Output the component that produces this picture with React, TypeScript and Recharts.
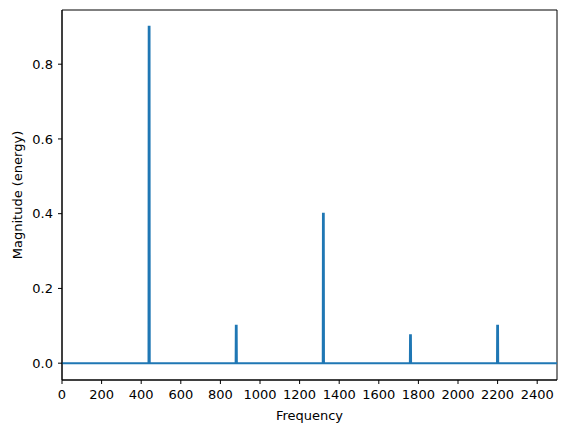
import { LineChart, Line, XAxis, YAxis, ReferenceArea } from 'recharts';

// spectrum points: flat at zero with narrow spikes at the harmonics of 440 Hz
const frequency = [0, 437, 438, 442, 443, 877, 878, 882, 883, 1317, 1318, 1322, 1323, 1757, 1758, 1762, 1763, 2197, 2198, 2202, 2203, 2500];
const magnitude = [0, 0, 0.9, 0.9, 0, 0, 0.1, 0.1, 0, 0, 0.4, 0.4, 0, 0, 0.075, 0.075, 0, 0, 0.1, 0.1, 0, 0];

const xTicks = [0, 200, 400, 600, 800, 1000, 1200, 1400, 1600, 1800, 2000, 2200, 2400];
const yTicks = [0, 0.2, 0.4, 0.6, 0.8];

const data = frequency.map((f, i) => ({ f, m: magnitude[i] }));

const font = 'DejaVu Sans, sans-serif';
const fs = 13;
const tickStyle = { fill: '#000', fontSize: fs, fontFamily: font };

const YLabel = () => {
  const cx = 17;
  const cy = 10 + 370 / 2;
  return (
    <text
      x={cx}
      y={cy}
      transform={`rotate(-90 ${cx} ${cy})`}
      textAnchor="middle"
      dominantBaseline="central"
      fontSize={fs}
      fontFamily={font}
      fill="#000"
    >
      Magnitude (energy)
    </text>
  );
};

export default function App() {
  return (
    <div style={{ position: 'absolute', left: 0, top: 0, background: '#fff' }}>
      <LineChart width={567} height={432} data={data} margin={{ top: 10, right: 10, left: 10, bottom: 12 }}>
        <XAxis
          dataKey="f"
          type="number"
          domain={[0, 2500]}
          ticks={xTicks}
          allowDataOverflow
          tick={tickStyle}
          tickSize={4}
          tickMargin={6}
          height={40}
          stroke="#000"
          tickLine={{ stroke: '#000' }}
          label={{ value: 'Frequency', position: 'insideBottom', offset: 0, fill: '#000', fontSize: fs, fontFamily: font }}
        />
        <YAxis
          type="number"
          domain={[-0.045, 0.945]}
          ticks={yTicks}
          allowDataOverflow
          tickFormatter={(v: number) => v.toFixed(1)}
          tick={tickStyle}
          tickSize={4}
          tickMargin={5}
          width={52}
          stroke="#000"
          tickLine={{ stroke: '#000' }}
          label={<YLabel />}
        />
        <Line
          type="linear"
          dataKey="m"
          stroke="#1f77b4"
          strokeWidth={2}
          dot={false}
          isAnimationActive={false}
        />
        <ReferenceArea x1={0} x2={2500} y1={-0.045} y2={0.945} fill="none" stroke="#000" strokeWidth={1} ifOverflow="visible" />
      </LineChart>
    </div>
  );
}
